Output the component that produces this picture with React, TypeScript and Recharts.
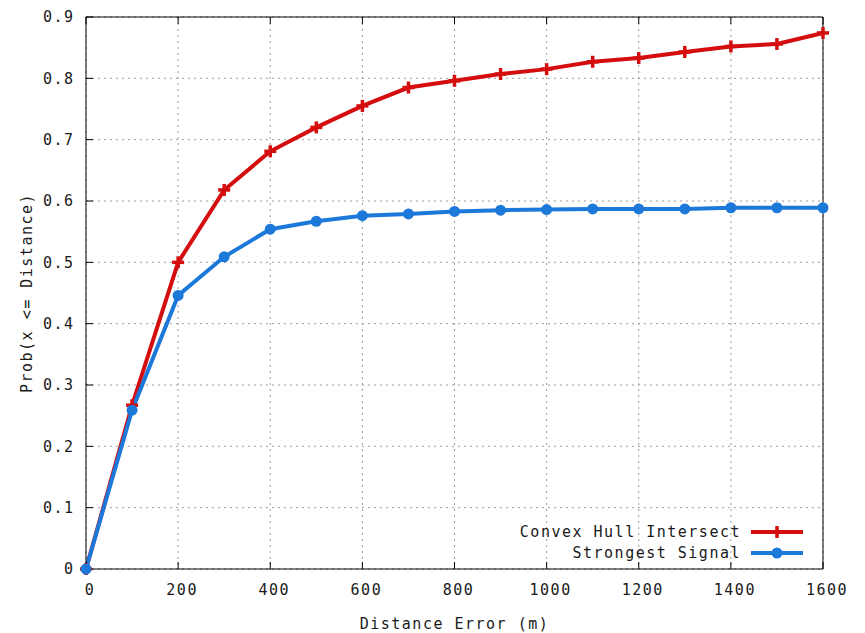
import React from 'react';
import { LineChart, Line, XAxis, YAxis, CartesianGrid } from 'recharts';

const distances = [0, 100, 200, 300, 400, 500, 600, 700, 800, 900, 1000, 1100, 1200, 1300, 1400, 1500, 1600];
const convexHull = [0, 0.267, 0.5, 0.618, 0.681, 0.72, 0.755, 0.785, 0.796, 0.807, 0.815, 0.827, 0.833, 0.843, 0.852, 0.856, 0.874];
const strongestSignal = [0, 0.259, 0.446, 0.509, 0.554, 0.567, 0.576, 0.579, 0.583, 0.585, 0.586, 0.587, 0.587, 0.587, 0.589, 0.589, 0.589];

const xTicks = [0, 200, 400, 600, 800, 1000, 1200, 1400, 1600];
const yTicks = [0, 0.1, 0.2, 0.3, 0.4, 0.5, 0.6, 0.7, 0.8, 0.9];

const RED = '#d40e0e';
const BLUE = '#1c79d9';
const FONT = '"DejaVu Sans Mono", "Liberation Mono", monospace';

const data = distances.map((d, i) => ({
  dist: d,
  hull: convexHull[i],
  strongest: strongestSignal[i],
}));

const tickStyle = { fontFamily: FONT, fontSize: 15, fill: '#1a1a1a', letterSpacing: 1.5 };

// gnuplot-ish "+" marker
const PlusDot = (props: any) => {
  const { cx, cy } = props;
  if (cx == null || cy == null) return null;
  return (
    <g>
      <line x1={cx - 6} y1={cy} x2={cx + 6} y2={cy} stroke={RED} strokeWidth={3.5} />
      <line x1={cx} y1={cy - 6} x2={cx} y2={cy + 6} stroke={RED} strokeWidth={3.5} />
    </g>
  );
};

const CircleDot = (props: any) => {
  const { cx, cy } = props;
  if (cx == null || cy == null) return null;
  return <circle cx={cx} cy={cy} r={5.5} fill={BLUE} stroke="none" />;
};

function LegendRow({ label, color, marker }: { label: string; color: string; marker: 'plus' | 'circle' }) {
  return (
    <div style={{ display: 'flex', justifyContent: 'flex-end', alignItems: 'center', height: 21 }}>
      <span style={{ fontFamily: FONT, fontSize: 15, letterSpacing: 1.5, color: '#1a1a1a', whiteSpace: 'pre' }}>{label}</span>
      <svg width={52} height={14} style={{ marginLeft: 10 }}>
        <line x1={0} y1={7} x2={52} y2={7} stroke={color} strokeWidth={4} />
        {marker === 'plus' ? (
          <g>
            <line x1={20} y1={7} x2={32} y2={7} stroke={color} strokeWidth={3.5} />
            <line x1={26} y1={1} x2={26} y2={13} stroke={color} strokeWidth={3.5} />
          </g>
        ) : (
          <circle cx={26} cy={7} r={5.5} fill={color} />
        )}
      </svg>
    </div>
  );
}

export default function App() {
  return (
    <div style={{ position: 'absolute', left: 0, top: 0, width: 865, height: 633, background: '#fff' }}>
      <LineChart width={865} height={633} data={data} margin={{ top: 0, right: 0, bottom: 0, left: 0 }}>
        <CartesianGrid stroke="#9a9a9a" strokeDasharray="2 4" verticalPoints={undefined} />
        <XAxis
          dataKey="dist"
          type="number"
          domain={[0, 1600]}
          ticks={xTicks}
          height={64}
          stroke="#000"
          tickSize={-7}
          tickMargin={22}
          tick={{ ...tickStyle, dx: 4 }}
          label={{
            value: 'Distance Error (m)',
            position: 'insideBottom',
            offset: 4,
            style: { fontFamily: FONT, fontSize: 15, letterSpacing: 1.5, fill: '#1a1a1a' },
          }}
        />
        <XAxis
          xAxisId="top"
          orientation="top"
          dataKey="dist"
          type="number"
          domain={[0, 1600]}
          ticks={xTicks}
          height={17}
          stroke="#000"
          tickSize={-7}
          tickFormatter={() => ''}
        />
        <YAxis
          type="number"
          domain={[0, 0.9]}
          ticks={yTicks}
          width={86}
          stroke="#000"
          tickSize={-7}
          tickMargin={18.5}
          tick={tickStyle}
          tickFormatter={(v: number) => (v === 0 ? '0' : String(Math.round(v * 10) / 10))}
          label={{
            value: 'Prob(x <= Distance)',
            angle: -90,
            position: 'insideLeft',
            offset: 27,
            style: { fontFamily: FONT, fontSize: 15, letterSpacing: 1.5, fill: '#1a1a1a', textAnchor: 'middle' },
          }}
        />
        <YAxis
          yAxisId="right"
          orientation="right"
          type="number"
          domain={[0, 0.9]}
          ticks={yTicks}
          width={42}
          stroke="#000"
          tickSize={-7}
          tickFormatter={() => ''}
        />
        <Line
          type="linear"
          dataKey="hull"
          stroke={RED}
          strokeWidth={4}
          dot={<PlusDot />}
          activeDot={false}
          isAnimationActive={false}
        />
        <Line
          type="linear"
          dataKey="strongest"
          stroke={BLUE}
          strokeWidth={4}
          dot={<CircleDot />}
          activeDot={false}
          isAnimationActive={false}
        />
      </LineChart>
      <div style={{ position: 'absolute', left: 503, top: 521.5, width: 300 }}>
        <LegendRow label="Convex Hull Intersect" color={RED} marker="plus" />
        <LegendRow label="Strongest Signal" color={BLUE} marker="circle" />
      </div>
    </div>
  );
}
